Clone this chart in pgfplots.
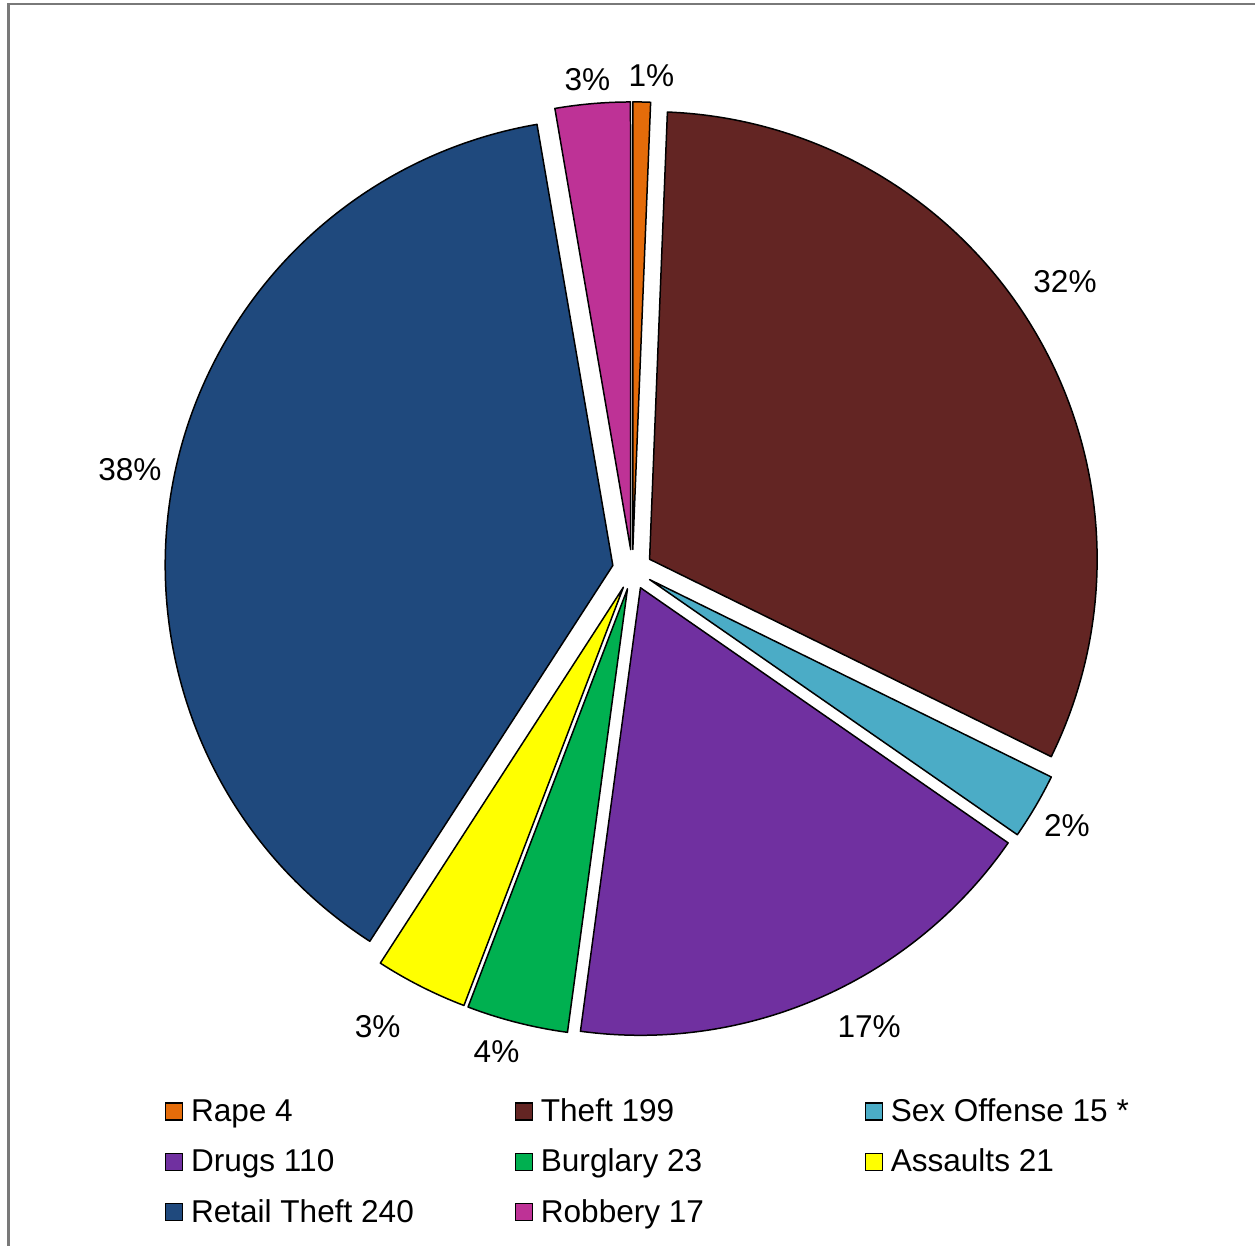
\documentclass[border=0pt]{standalone}
\usepackage{fontspec}
\setmainfont{Liberation Sans}
\usepackage{pgfplots}
\usepackage{pgfplotstable}
\pgfplotsset{compat=1.18}

\definecolor{cRape}{RGB}{228,108,10}
\definecolor{cTheft}{RGB}{99,37,35}
\definecolor{cSex}{RGB}{75,172,198}
\definecolor{cDrugs}{RGB}{112,48,160}
\definecolor{cBurg}{RGB}{0,176,80}
\definecolor{cAss}{RGB}{255,255,0}
\definecolor{cRetail}{RGB}{31,73,125}
\definecolor{cRob}{RGB}{190,50,150}

% value, colour, label centre (image pixels, y measured from the bottom)
\pgfplotstableread{
name value col lx ly
Rape 4 cRape 652 1171
Theft 199 cTheft 1066 965
SexOffense 15 cSex 1068 421
Drugs 110 cDrugs 870 219
Burglary 23 cBurg 497 194
Assaults 21 cAss 378 219
RetailTheft 240 cRetail 130 777
Robbery 17 cRob 588 1167
}\crimedata

\newcommand\lfont{\fontsize{15.8pt}{19pt}\selectfont}
\newcommand\lentry[1]{\makebox[162pt][l]{\raisebox{0pt}[11.3pt][0pt]{#1}}}

\begin{document}
\begin{tikzpicture}
\begin{axis}[
  x=0.5pt, y=0.5pt,
  xmin=0, xmax=1256, ymin=0, ymax=1247,
  hide axis, clip=false,
  legend columns=3,
  legend style={draw=none, fill=none, inner sep=0pt, outer sep=0pt,
    font=\lfont, row sep=12.4pt, column sep=0pt,
    at={(axis cs:165,84)}, anchor=west,
    nodes={inner sep=0pt},
    /tikz/every odd column/.append style={column sep=4pt}},
  legend cell align=left,
  sq/.style={fill=#1, draw=black, line width=0.6pt,
    legend image code/.code={\draw[##1] (0pt,-4.25pt) rectangle (8.5pt,4.25pt);}},
]
\path (axis cs:0,0) rectangle (axis cs:1256,1247);
\draw[gray!95!black, line width=1.2pt] (axis cs:8.5,0) -- (axis cs:8.5,1243) -- (axis cs:1256,1243);

\pgfplotsextra{
  \gdef\total{0}
  \foreach \i in {0,...,7}{
    \pgfplotstablegetelem{\i}{value}\of\crimedata
    \pgfmathparse{\total+\pgfplotsretval}\xdef\total{\pgfmathresult}
  }
  \gdef\startang{90}
  \foreach \i in {0,...,7}{
    \pgfplotstablegetelem{\i}{value}\of\crimedata \let\sv\pgfplotsretval
    \pgfplotstablegetelem{\i}{col}\of\crimedata \let\scol\pgfplotsretval
    \pgfplotstablegetelem{\i}{lx}\of\crimedata \let\slx\pgfplotsretval
    \pgfplotstablegetelem{\i}{ly}\of\crimedata \let\sly\pgfplotsretval
    \pgfmathsetmacro\frac{\sv/\total}
    \pgfmathsetmacro\endang{\startang-\frac*360}
    \pgfmathsetmacro\midang{(\startang+\endang)/2}
    \pgfmathtruncatemacro\pct{round(\frac*100)}
    \filldraw[fill=\scol, draw=black, line width=0.75pt, line join=round,
      shift={(axis cs:633,677)}, shift={(\midang:10pt)}]
      (0,0) -- (\startang:224pt) arc[start angle=\startang, end angle=\endang, radius=224pt] -- cycle;
    \node[font=\lfont, inner sep=0pt] at (axis cs:\slx,\sly) {\pct\%};
    \xdef\startang{\endang}
  }
}

\addlegendimage{sq=cRape}\addlegendentry{\lentry{Rape 4}}
\addlegendimage{sq=cTheft}\addlegendentry{\lentry{Theft 199}}
\addlegendimage{sq=cSex}\addlegendentry{\lentry{Sex Offense 15 *}}
\addlegendimage{sq=cDrugs}\addlegendentry{\lentry{Drugs 110}}
\addlegendimage{sq=cBurg}\addlegendentry{\lentry{Burglary 23}}
\addlegendimage{sq=cAss}\addlegendentry{\lentry{Assaults 21}}
\addlegendimage{sq=cRetail}\addlegendentry{\lentry{Retail Theft 240}}
\addlegendimage{sq=cRob}\addlegendentry{\lentry{Robbery 17}}
\end{axis}
\end{tikzpicture}
\end{document}
